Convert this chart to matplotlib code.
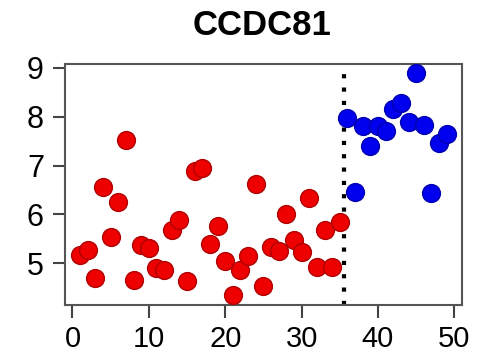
import matplotlib.pyplot as plt
import numpy as np

plt.rcParams['font.family'] = ['Liberation Sans', 'DejaVu Sans']

# sample index and expression values
red_x = np.arange(1, 36)
red_y = [5.17, 5.27, 4.70, 6.57, 5.54, 6.26, 7.52, 4.65, 5.37, 5.32,
         4.90, 4.86, 5.69, 5.89, 4.63, 6.89, 6.96, 5.39, 5.76, 5.05,
         4.36, 4.86, 5.14, 6.62, 4.53, 5.34, 5.25, 6.01, 5.47, 5.24,
         6.33, 4.93, 5.68, 4.93, 5.85]
blue_x = np.arange(36, 50)
blue_y = [7.98, 6.47, 7.82, 7.41, 7.81, 7.70, 8.16, 8.29, 7.89, 8.89,
          7.84, 6.43, 7.47, 7.64]
split = 35.5
title = 'CCDC81'
xticks = [0, 10, 20, 30, 40, 50]
yticks = [5, 6, 7, 8, 9]

fig = plt.figure(figsize=(4.8, 3.6), dpi=100)
ax = fig.add_axes([0.135, 0.152, 0.8275, 0.67])

ax.scatter(red_x, red_y, s=165, color='#ee0000', edgecolors='#b00000',
           linewidths=1, zorder=3)
ax.scatter(blue_x, blue_y, s=165, color='#0000ee', edgecolors='#0000b0',
           linewidths=1, zorder=3)
ax.axvline(split, color='k', linewidth=3, linestyle=(0, (1, 2.2)), zorder=2)

ax.set_xlim(-1.0, 51.0)
ax.set_ylim(4.14, 9.08)
ax.set_xticks(xticks)
ax.set_yticks(yticks)
ax.tick_params(labelsize=22, length=9, width=1.5, color='#444444', pad=6)
ax.tick_params(axis='x', labelsize=21, pad=5)
for s in ax.spines.values():
    s.set_linewidth(1.5)
    s.set_color('#555555')

fig.text(0.546, 0.93, title, fontsize=25, fontweight='bold',
         ha='center', va='center')

fig.savefig('out.png', dpi=100)
